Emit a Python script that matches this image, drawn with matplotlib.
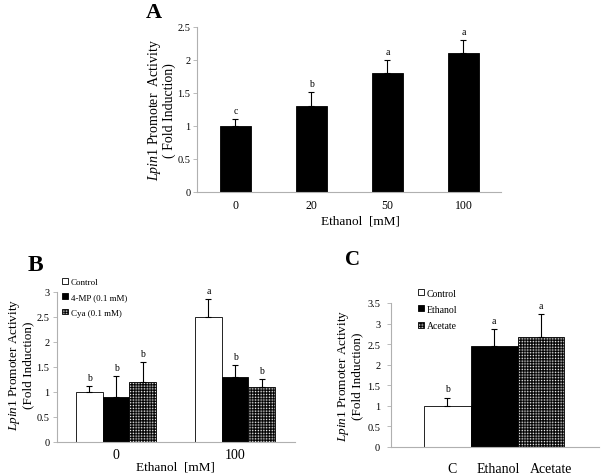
import warnings
import numpy as np
import matplotlib
matplotlib.use("Agg")
import matplotlib.pyplot as plt
import matplotlib.hatch as mhatch
from matplotlib.path import Path
from matplotlib.patches import Patch

warnings.filterwarnings("ignore")

# ---- data ----
# Panel A
doses_a = ["0", "20", "50", "100"]
act_a = [1.0, 1.3, 1.8, 2.1]
err_a = [0.10, 0.21, 0.20, 0.20]
sig_a = ["c", "b", "a", "a"]

# Panel B
groups_b = ["0", "100"]
series_b = ["Control", "4-MP (0.1 mM)", "Cya (0.1 mM)"]
act_b_control = [1.0, 2.5]
act_b_4mp = [0.9, 1.3]
act_b_cya = [1.2, 1.1]
err_b_control = [0.12, 0.35]
err_b_4mp = [0.42, 0.24]
err_b_cya = [0.40, 0.15]
sig_b_control = ["b", "a"]
sig_b_4mp = ["b", "b"]
sig_b_cya = ["b", "b"]

# Panel C
cats_c = ["C", "Ethanol", "Acetate"]
legend_c = ["Control", "Ethanol", "Acetate"]
act_c = [1.0, 2.45, 2.67]
err_c = [0.20, 0.42, 0.55]
sig_c = ["b", "a", "a"]


# dense dot pattern used for the Cya / Acetate bars
class DotGrid(mhatch.HatchPatternBase):
    def __init__(self, hatch, density):
        self.num_rows = hatch.count('d') * density
        circ = Path.unit_circle()
        self.shape_vertices = circ.vertices
        self.shape_codes = circ.codes
        self.num_vertices = self.num_rows ** 2 * len(circ.vertices)

    def set_vertices_and_codes(self, vertices, codes):
        n = self.num_rows
        s = 1.0 / n
        k = len(self.shape_vertices)
        idx = 0
        for i in range(n):
            for j in range(n):
                vertices[idx:idx + k] = self.shape_vertices * (0.42 * s) + [(j + 0.5) * s, (i + 0.5) * s]
                codes[idx:idx + k] = self.shape_codes
                idx += k


mhatch._hatch_types.append(DotGrid)
DOTS = 'dddddd'

plt.rcParams['font.family'] = ['Liberation Serif', 'DejaVu Serif']
plt.rcParams['mathtext.fontset'] = 'custom'
plt.rcParams['mathtext.rm'] = 'Liberation Serif'
plt.rcParams['mathtext.it'] = 'Liberation Serif:italic'
plt.rcParams['hatch.linewidth'] = 0.3

GRAY = '#b0b0b0'


def style_axes(ax):
    for side in ['top', 'right']:
        ax.spines[side].set_visible(False)
    for side in ['left', 'bottom']:
        ax.spines[side].set_color(GRAY)
        ax.spines[side].set_linewidth(0.8)
    ax.tick_params(axis='y', direction='out', length=3, width=0.6, color=GRAY, labelsize=7.5, pad=2)
    ax.tick_params(axis='x', length=0)


def add_bars(ax, x, vals, errs, width, face, hatch=None, letters=None):
    ax.bar(x, vals, width, color=face, edgecolor='black', linewidth=0.6, hatch=hatch, zorder=2)
    ax.errorbar(x, vals, yerr=[np.zeros(len(vals)), errs], fmt='none', ecolor='black',
                elinewidth=0.8, capsize=2.5, capthick=0.8, zorder=3)
    for xi, v, e, t in zip(x, vals, errs, letters):
        ax.annotate(t, (xi, v + e), xytext=(0, 3), textcoords='offset points',
                    ha='center', va='bottom', fontsize=7)


def legend_handles(faces, hatches, labels):
    return [Patch(facecolor=f, edgecolor='black', linewidth=0.6, hatch=h, label=l)
            for f, h, l in zip(faces, hatches, labels)]


ylab = '$\\it{Lpin1}$ Promoter Activity\n(Fold Induction)'

fig = plt.figure(figsize=(6.03, 4.77), dpi=100)

# ---- Panel A ----
axA = fig.add_axes([0.3275, 0.5954, 0.504, 0.346])
xa = np.arange(len(doses_a))
add_bars(axA, xa, act_a, err_a, 0.41, 'black', letters=sig_a)
axA.set_xlim(-0.5, 3.5)
axA.set_ylim(0, 2.5)
axA.set_yticks([0, 0.5, 1, 1.5, 2, 2.5])
axA.set_yticklabels(['0', '0.5', '1', '1.5', '2', '2.5'])
axA.set_xticks(xa)
axA.set_xticklabels(doses_a, fontsize=8.5)
style_axes(axA)
axA.tick_params(axis='x', pad=5)
axA.set_xlabel('Ethanol  [mM]', fontsize=9.5)
axA.xaxis.set_label_coords(0.535, -0.135)
axA.text(-0.12, 0.5, '$\\it{Lpin1}$ Promoter  Activity\n( Fold Induction)', transform=axA.transAxes,
         rotation=90, ha='center', va='center', fontsize=10, linespacing=1.0)
fig.text(0.255, 0.972, 'A', fontsize=16, fontweight='bold', ha='center', va='center')

# ---- Panel B ----
axB = fig.add_axes([0.0937, 0.0713, 0.3947, 0.3145])
xb = np.arange(len(groups_b))
wb = 0.223
add_bars(axB, xb - wb, act_b_control, err_b_control, wb, 'white', letters=sig_b_control)
add_bars(axB, xb, act_b_4mp, err_b_4mp, wb, 'black', letters=sig_b_4mp)
add_bars(axB, xb + wb, act_b_cya, err_b_cya, wb, 'white', hatch=DOTS, letters=sig_b_cya)
axB.set_xlim(-0.5, 1.5)
axB.set_ylim(0, 3)
axB.set_yticks([0, 0.5, 1, 1.5, 2, 2.5, 3])
axB.set_yticklabels(['0', '0.5', '1', '1.5', '2', '2.5', '3'])
axB.set_xticks(xb)
axB.set_xticklabels(groups_b, fontsize=10)
style_axes(axB)
axB.tick_params(axis='x', pad=4)
axB.set_xlabel('Ethanol  [mM]', fontsize=9.5, labelpad=0)
axB.text(-0.15, 0.52, ylab, transform=axB.transAxes, rotation=90, ha='center', va='center',
         fontsize=9.5, linespacing=1.05)
axB.legend(handles=legend_handles(['white', 'black', 'white'], [None, None, DOTS], series_b),
           loc='upper left', bbox_to_anchor=(0.103, 0.415), bbox_transform=fig.transFigure,
           frameon=False, fontsize=6.5, handlelength=0.6, handleheight=0.6, handletextpad=0.35,
           labelspacing=0.8, borderpad=0, borderaxespad=0)
fig.text(0.058, 0.444, 'B', fontsize=17, fontweight='bold', ha='center', va='center')

# ---- Panel C ----
axC = fig.add_axes([0.649, 0.0608, 0.345, 0.302])
xc = np.arange(len(cats_c))
faces_c = ['white', 'black', 'white']
hatches_c = [None, None, DOTS]
for i in range(len(cats_c)):
    add_bars(axC, xc[i:i + 1], act_c[i:i + 1], err_c[i:i + 1], 1.0, faces_c[i],
             hatch=hatches_c[i], letters=sig_c[i:i + 1])
axC.set_xlim(-1.2, 3.25)
axC.set_ylim(0, 3.5)
axC.set_yticks([0, 0.5, 1, 1.5, 2, 2.5, 3, 3.5])
axC.set_yticklabels(['0', '0.5', '1', '1.5', '2', '2.5', '3', '3.5'])
axC.set_xticks([0.1, 1.08, 2.22])
axC.set_xticklabels(cats_c, fontsize=10)
style_axes(axC)
axC.tick_params(axis='y', pad=5)
axC.tick_params(axis='x', pad=11)
axC.text(-0.2, 0.5, ylab, transform=axC.transAxes, rotation=90, ha='center', va='center',
         fontsize=9.5, linespacing=1.05)
axC.legend(handles=legend_handles(faces_c, hatches_c, legend_c),
           loc='upper left', bbox_to_anchor=(0.693, 0.393), bbox_transform=fig.transFigure,
           frameon=False, fontsize=7, handlelength=0.6, handleheight=0.6, handletextpad=0.35,
           labelspacing=0.75, borderpad=0, borderaxespad=0)
fig.text(0.585, 0.455, 'C', fontsize=15, fontweight='bold', ha='center', va='center')

fig.savefig('out.png', dpi=100)
